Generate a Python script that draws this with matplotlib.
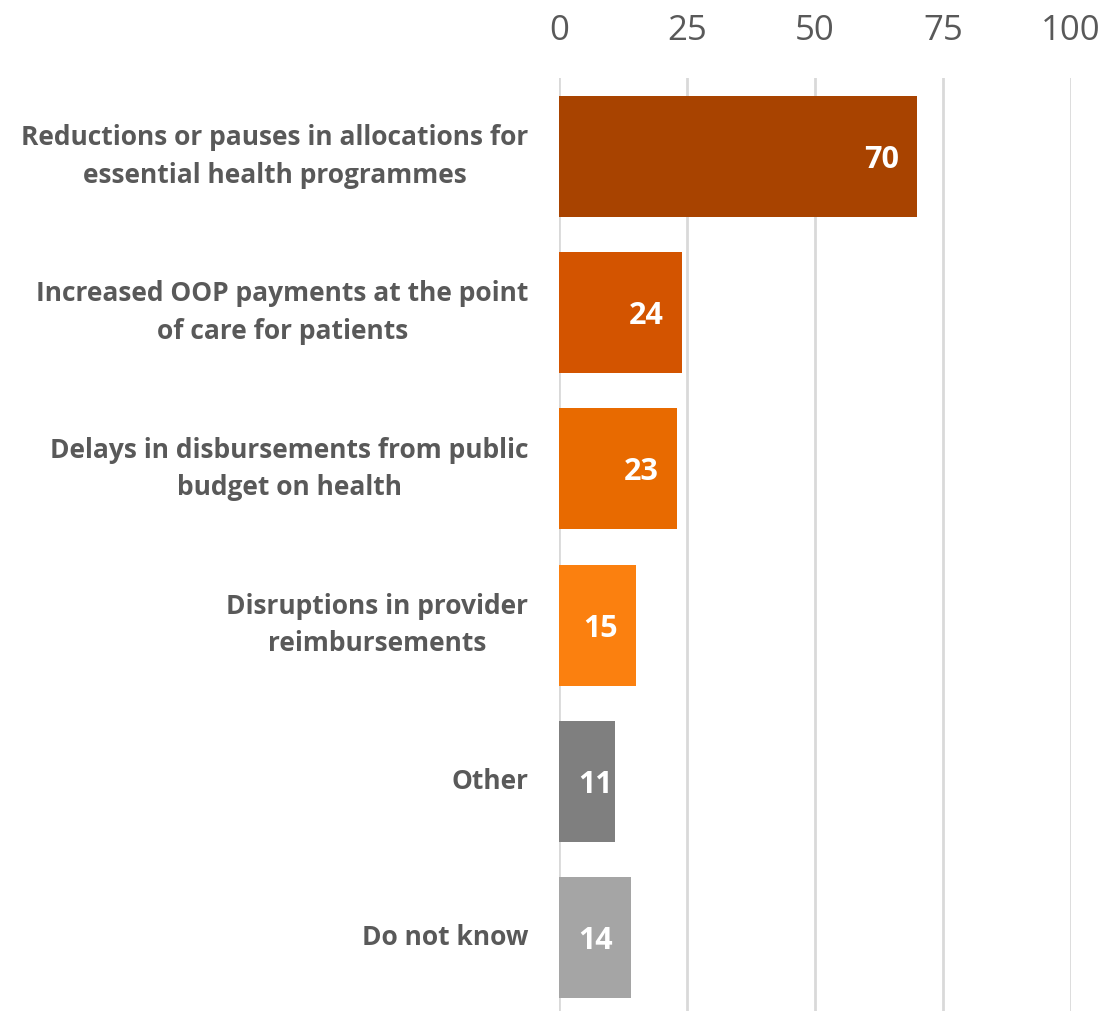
import matplotlib.pyplot as plt

categories = [
    "Reductions or pauses in allocations for\nessential health programmes",
    "Increased OOP payments at the point\nof care for patients",
    "Delays in disbursements from public\nbudget on health",
    "Disruptions in provider\nreimbursements",
    "Other",
    "Do not know",
]
values = [70, 24, 23, 15, 11, 14]
colors = ["#A84300", "#D35400", "#E86A00", "#FB800F", "#7F7F7F", "#A5A5A5"]
ticks = [0, 25, 50, 75, 100]

plt.rcParams['font.family'] = ['Open Sans', 'DejaVu Sans']
grey = "#595959"

fig = plt.figure(figsize=(11.04, 10.11), dpi=100)
ax = fig.add_axes([0.5063, -0.0045, 0.4638, 0.927])

ypos = list(range(len(categories)))
bars = ax.barh(ypos, values, height=0.775, color=colors, zorder=2)

# value labels sit inside the bar end; short bars get almost no inset
for y, v in zip(ypos, values):
    inset = 13 if v > 12 else 1.5
    ax.annotate(str(v), xy=(v, y), xytext=(-inset, -2.5), textcoords="offset points",
                ha="right", va="center", color="white", fontsize=22,
                fontweight="bold")

ax.set_xlim(0, 100)
ax.set_ylim(len(categories) - 0.5, -0.5)
ax.set_xticks(ticks)
ax.set_yticks(ypos)
ax.set_yticklabels(categories, fontsize=19, fontweight="bold", color=grey,
                   multialignment="center")
for lbl in ax.get_yticklabels():
    lbl.set_linespacing(1.5)
    lbl.set_verticalalignment("center")
ax.xaxis.tick_top()
ax.tick_params(axis="x", length=0, pad=22, labelsize=25, labelcolor=grey)
ax.tick_params(axis="y", length=0, pad=22)

ax.grid(axis="x", color="#D9D9D9", linewidth=2, zorder=0)
ax.set_axisbelow(True)
for s in ax.spines.values():
    s.set_visible(False)

fig.savefig("out.png", dpi=100)
